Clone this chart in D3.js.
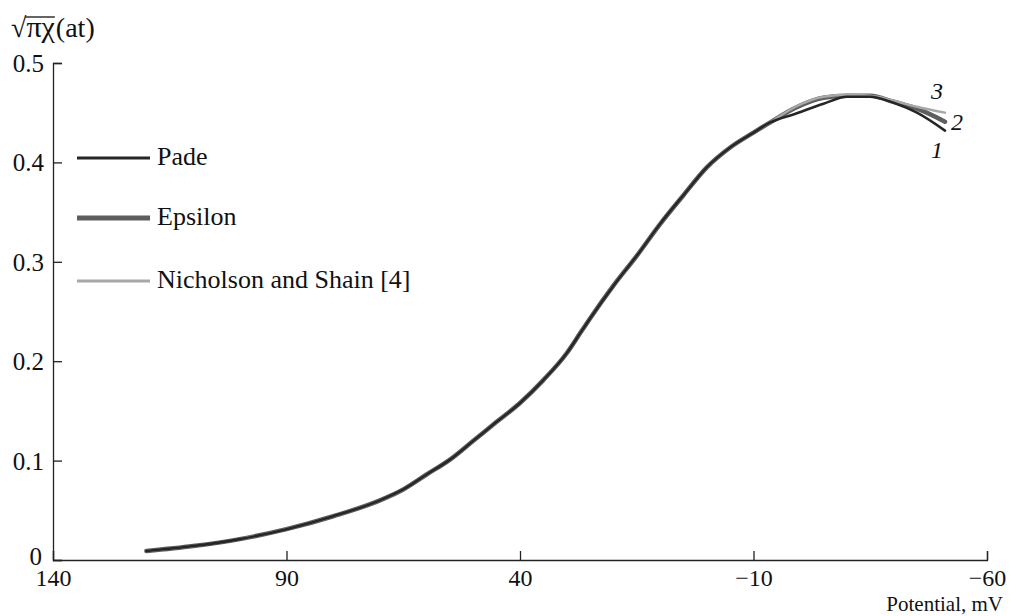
<!DOCTYPE html>
<html>
<head>
<meta charset="utf-8">
<script src="https://cdn.jsdelivr.net/npm/d3@7"></script>
<style>
  body { margin: 0; background: #fff; }
  text { font-family: "Liberation Serif", "Times New Roman", serif; fill: #111; }
</style>
</head>
<body>
<svg width="1016" height="616"></svg>
<script>
// potential, mV (x axis runs from 140 down to -60)
const potential = [120, 110, 100, 90, 80, 70, 65, 60, 55, 50, 45, 40, 35, 30, 27, 25, 20, 15, 10, 5, 0, -5, -10, -13.5, -19, -25, -30, -35, -40, -45, -51];

// sqrt(pi)*chi(at) for each method
const pade      = [0.009, 0.014, 0.021, 0.031, 0.044, 0.060, 0.071, 0.086, 0.101, 0.120, 0.139, 0.158, 0.181, 0.208, 0.229, 0.243, 0.276, 0.306, 0.338, 0.367, 0.395, 0.415, 0.430, 0.440, 0.449, 0.459, 0.466, 0.466, 0.460, 0.450, 0.432];
const epsilon   = [0.009, 0.014, 0.021, 0.031, 0.044, 0.060, 0.071, 0.086, 0.101, 0.120, 0.139, 0.158, 0.181, 0.208, 0.229, 0.243, 0.276, 0.306, 0.338, 0.367, 0.395, 0.415, 0.430, 0.440, 0.455, 0.465, 0.467, 0.467, 0.461, 0.454, 0.441];
const nicholson = [0.009, 0.014, 0.021, 0.031, 0.044, 0.060, 0.071, 0.086, 0.101, 0.120, 0.139, 0.158, 0.181, 0.208, 0.229, 0.243, 0.276, 0.306, 0.338, 0.367, 0.395, 0.415, 0.430, 0.440, 0.456, 0.466, 0.468, 0.467, 0.462, 0.456, 0.450];

const xTicks = [140, 90, 40, -10, -60];
const xTickLabels = ["140", "90", "40", "\u221210", "\u221260"];
const yTicks = [0, 0.1, 0.2, 0.3, 0.4, 0.5];
const yTickLabels = ["0", "0.1", "0.2", "0.3", "0.4", "0.5"];

const seriesNames = ["Pade", "Epsilon", "Nicholson and Shain [4]"];
const curveTags = ["1", "2", "3"];

const serif = '"Liberation Serif", "Times New Roman", serif';

const margin = { top: 63, right: 29, bottom: 56, left: 53 },
      width = 1016 - margin.left - margin.right,
      height = 616 - margin.top - margin.bottom;

const svg = d3.select("svg");
const g = svg.append("g")
  .attr("transform", `translate(${margin.left},${margin.top})`);

const x = d3.scaleLinear().domain([140, -60]).range([0, width]);
const y = d3.scaleLinear().domain([0, 0.5]).range([height, 0]);

// axes, ticks point inwards
const xAxis = g.append("g")
  .attr("transform", `translate(0,${height})`)
  .call(d3.axisBottom(x)
    .tickValues(xTicks)
    .tickFormat((d, i) => xTickLabels[i])
    .tickSize(-9)
    .tickPadding(9));

const yAxis = g.append("g")
  .call(d3.axisLeft(y)
    .tickValues(yTicks)
    .tickFormat((d, i) => yTickLabels[i])
    .tickSize(-9)
    .tickPadding(9));

[xAxis, yAxis].forEach(a => {
  a.attr("font-family", serif).attr("font-size", 25);
  a.selectAll("path, line").attr("stroke", "#222").attr("stroke-width", 1.3);
  a.selectAll("text").attr("fill", "#111");
});
xAxis.attr("font-size", 24);
yAxis.selectAll(".tick text").attr("dy", "0.34em");
// the "0" sits a little higher, clear of the "140" below it
yAxis.selectAll(".tick text").filter(d => d === 0).attr("dy", "0.18em").attr("dx", "-2");

// axis titles
svg.append("text")
  .attr("x", 1003).attr("y", 611)
  .attr("text-anchor", "end")
  .attr("font-size", 21)
  .text("Potential, mV");

const yl = svg.append("g").attr("font-size", 28);
const rad = yl.append("text").attr("x", 11).attr("y", 37).text("\u221A");
const radW = rad.node().getComputedTextLength();
const pc = yl.append("text").attr("x", 11 + radW).attr("y", 37).attr("font-size", 30).text("\u03C0\u03C7");
const pcW = pc.node().getComputedTextLength();
yl.append("line")
  .attr("x1", 11 + radW - 1).attr("x2", 11 + radW + pcW)
  .attr("y1", 17).attr("y2", 17)
  .attr("stroke", "#111").attr("stroke-width", 1.3);
yl.append("text").attr("x", 11 + radW + pcW + 1).attr("y", 37).text("(at)");

// curves
const series = [
  { name: seriesNames[0], values: pade, color: "#262626", w: 2.6 },
  { name: seriesNames[1], values: epsilon, color: "#5e5e5e", w: 4.5 },
  { name: seriesNames[2], values: nicholson, color: "#a8a8a8", w: 2.4 }
];

const line = d3.line()
  .curve(d3.curveMonotoneX)
  .x(d => x(d[0]))
  .y(d => y(d[1]));

[1, 2, 0].forEach(i => {
  const s = series[i];
  const pts = potential.map((p, j) => [p, s.values[j]]).sort((a, b) => a[0] - b[0]);
  g.append("path")
    .datum(pts)
    .attr("fill", "none")
    .attr("stroke", s.color)
    .attr("stroke-width", s.w)
    .attr("stroke-linejoin", "round")
    .attr("stroke-linecap", "round")
    .attr("d", line);
});

// curve numbers at the right ends
const last = potential.length - 1;
const tagPos = [
  { dx: -14, dy: 27 },
  { dx: 6, dy: 8 },
  { dx: -14, dy: -14 }
];
series.forEach((s, i) => {
  g.append("text")
    .attr("x", x(potential[last]) + tagPos[i].dx)
    .attr("y", y(s.values[last]) + tagPos[i].dy)
    .attr("font-size", 24)
    .attr("font-style", "italic")
    .text(curveTags[i]);
});

// legend
const legend = svg.append("g");
const legendY = [158, 218, 281];
series.forEach((s, i) => {
  legend.append("line")
    .attr("x1", 77).attr("x2", 150)
    .attr("y1", legendY[i]).attr("y2", legendY[i])
    .attr("stroke", s.color)
    .attr("stroke-width", i === 1 ? 5 : 3);
  legend.append("text")
    .attr("x", 157).attr("y", legendY[i] + 7)
    .attr("font-size", 26)
    .text(s.name);
});
</script>
</body>
</html>
